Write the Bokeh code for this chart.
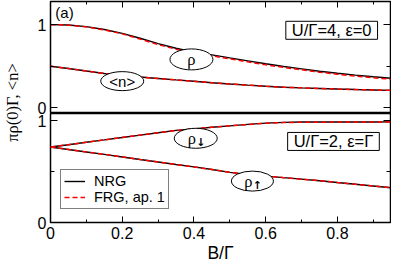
import numpy as np
from bokeh.plotting import figure
from bokeh.models import (Range1d, LinearAxis, FixedTicker, Label, Legend,
                          LegendItem, CustomJSTickFormatter)
from bokeh.layouts import row, column
from bokeh.embed import file_html
from bokeh.resources import INLINE
from bokeh.core.properties import value

# ---------------- data ----------------
B = [0.00, 0.05, 0.10, 0.15, 0.20, 0.25, 0.30, 0.35, 0.40, 0.45,
     0.50, 0.55, 0.60, 0.65, 0.70, 0.75, 0.80, 0.85, 0.90, 0.95]

# upper panel: U/Gamma=4, eps=0
rho_nrg = [1.000, 0.995, 0.976, 0.941, 0.895, 0.836, 0.772, 0.716, 0.670, 0.637,
           0.600, 0.565, 0.530, 0.497, 0.468, 0.440, 0.415, 0.393, 0.373, 0.355]
rho_frg = [1.000, 0.994, 0.973, 0.936, 0.889, 0.826, 0.760, 0.704, 0.659, 0.625,
           0.588, 0.553, 0.518, 0.486, 0.457, 0.429, 0.404, 0.382, 0.362, 0.344]
n_nrg = [0.500, 0.472, 0.442, 0.413, 0.390, 0.370, 0.353, 0.336, 0.320, 0.302,
         0.287, 0.273, 0.260, 0.248, 0.240, 0.233, 0.226, 0.220, 0.215, 0.210]
n_frg = [0.500, 0.472, 0.442, 0.413, 0.390, 0.370, 0.352, 0.335, 0.319, 0.301,
         0.286, 0.272, 0.259, 0.248, 0.240, 0.233, 0.226, 0.220, 0.215, 0.210]

# lower panel: U/Gamma=2, eps=Gamma
rho_dn_nrg = [0.740, 0.763, 0.787, 0.810, 0.834, 0.857, 0.880, 0.903, 0.918, 0.934,
              0.948, 0.962, 0.975, 0.982, 0.985, 0.986, 0.986, 0.986, 0.986, 0.987]
rho_dn_frg = [0.740, 0.763, 0.787, 0.810, 0.834, 0.857, 0.880, 0.902, 0.918, 0.934,
              0.948, 0.961, 0.973, 0.980, 0.983, 0.984, 0.985, 0.985, 0.986, 0.986]
rho_up_nrg = [0.740, 0.716, 0.692, 0.668, 0.643, 0.618, 0.594, 0.569, 0.545, 0.520,
              0.492, 0.472, 0.455, 0.440, 0.425, 0.410, 0.392, 0.375, 0.358, 0.340]
rho_up_frg = [0.740, 0.716, 0.692, 0.668, 0.643, 0.618, 0.594, 0.569, 0.545, 0.520,
              0.492, 0.472, 0.455, 0.440, 0.425, 0.410, 0.392, 0.375, 0.358, 0.340]

x_major = [0.0, 0.2, 0.4, 0.6, 0.8]
x_minor = [0.1, 0.3, 0.5, 0.7, 0.9]
y_major = [0, 1]
y_minor = [0.5]

SANS = "Liberation Sans"
SERIF = "Liberation Serif"
TICK_FS = "16px"

x_range = Range1d(0, 0.948)

EMPTY = CustomJSTickFormatter(code="return '';")


def style_axis(ax, major_in, minor_in, labels=True):
    ax.axis_line_color = None
    ax.major_tick_in = major_in
    ax.major_tick_out = 0
    ax.minor_tick_in = minor_in
    ax.minor_tick_out = 0
    ax.major_tick_line_color = "black"
    ax.minor_tick_line_color = "black"
    ax.major_tick_line_width = 1
    ax.minor_tick_line_width = 1
    if labels:
        ax.major_label_text_font = SANS
        ax.major_label_text_font_size = TICK_FS
        ax.major_label_text_color = "black"
    else:
        ax.formatter = EMPTY
        ax.major_label_text_font_size = "1px"
        ax.major_label_standoff = 0


def make_panel(y_range, height, top_border, bottom_border, **kw):
    p = figure(width=365, height=height, x_range=x_range, y_range=y_range,
               x_axis_type=None, y_axis_type=None, toolbar_location=None,
               output_backend="svg", min_border_left=24, min_border_right=1,
               min_border_top=top_border, min_border_bottom=bottom_border, **kw)
    p.outline_line_color = "black"
    p.outline_line_width = 1.5
    p.xgrid.visible = False
    p.ygrid.visible = False
    yt = FixedTicker(ticks=y_major, minor_ticks=y_minor)
    yl = LinearAxis(ticker=yt,
                    formatter=CustomJSTickFormatter(code="return tick.toFixed(0);"))
    style_axis(yl, 7, 4)
    yl.major_label_standoff = 4
    p.add_layout(yl, "left")
    yr = LinearAxis(ticker=FixedTicker(ticks=y_major, minor_ticks=y_minor))
    style_axis(yr, 7, 4, labels=False)
    p.add_layout(yr, "right")
    return p


# ---------------- upper panel ----------------
pt = make_panel(Range1d(-0.056, 1.278), 116, 1, 4)
pt.background_fill_color = "white"
pt.border_fill_color = "white"
xa_top = LinearAxis(ticker=FixedTicker(ticks=x_major, minor_ticks=x_minor))
style_axis(xa_top, 6, 3, labels=False)
pt.add_layout(xa_top, "above")

pt.line(B, rho_nrg, line_color="black", line_width=1.4)
pt.line(B, n_nrg, line_color="black", line_width=1.4)
pt.line(B, rho_frg, line_color="red", line_width=1.5, line_dash="5 3")
pt.line(B, n_frg, line_color="red", line_width=1.5, line_dash="5 3")

pt.ellipse(x=[0.393, 0.200], y=[0.582, 0.321], width=[43, 43], height=[21, 19],
           width_units="screen", height_units="screen",
           fill_color="white", line_color="black", line_width=1)
pt.text(x=[0.393], y=[0.582], text=["ρ"], text_align="center",
        text_baseline="middle", text_font=value(SERIF), text_font_size="16.5px",
        text_color="black")
pt.text(x=[0.200], y=[0.321], text=["<n>"], text_align="center",
        text_baseline="middle", text_font=value(SANS), text_font_size="15px",
        text_color="black")

pt.add_layout(Label(x=0.039, y=1.151, text="(a)", text_align="center",
                    text_baseline="middle", text_font=SANS,
                    text_font_size="15px", text_color="black"))
pt.add_layout(Label(x=0.784, y=0.932, text="U/Γ=4, ε=0", text_align="center",
                    text_baseline="middle", text_font=SANS,
                    text_font_size="16.5px", text_color="black",
                    border_line_color="black", border_line_width=1,
                    background_fill_color="white",
                    padding=dict(left=6, right=6, top=0, bottom=0)))

# ---------------- lower panel ----------------
pb = make_panel(Range1d(0, 1.069), 159, 5, 45, margin=(-8, 0, 0, 0))
pb.background_fill_color = None
pb.border_fill_color = None
xa_bot = LinearAxis(ticker=FixedTicker(ticks=x_major, minor_ticks=x_minor),
                    formatter=CustomJSTickFormatter(
                        code="return tick == 0 ? '0' : tick.toFixed(1);"))
style_axis(xa_bot, 6, 3)
xa_bot.major_label_standoff = 4
xa_bot.axis_label = "B/Γ"
xa_bot.axis_label_text_font = SANS
xa_bot.axis_label_text_font_size = "17.5px"
xa_bot.axis_label_text_font_style = "normal"
xa_bot.axis_label_standoff = 1
xa_bot.axis_label_text_color = "black"
pb.add_layout(xa_bot, "below")

n1 = pb.line(B, rho_dn_nrg, line_color="black", line_width=1.4)
pb.line(B, rho_up_nrg, line_color="black", line_width=1.4)
f1 = pb.line(B, rho_dn_frg, line_color="red", line_width=1.5, line_dash="5 3")
pb.line(B, rho_up_frg, line_color="red", line_width=1.5, line_dash="5 3")

pb.ellipse(x=[0.405, 0.563], y=[0.826, 0.406], width=[43, 42], height=[20, 20],
           width_units="screen", height_units="screen",
           fill_color="white", line_color="black", line_width=1)
pb.text(x=[0.405, 0.563], y=[0.826, 0.406], text=["ρ", "ρ"], x_offset=-4,
        text_align="center", text_baseline="middle", text_font=value(SERIF),
        text_font_size="16.5px", text_color="black")
pb.text(x=[0.405, 0.563], y=[0.826, 0.406], text=["↓", "↑"], x_offset=5,
        y_offset=4, text_align="center", text_baseline="middle",
        text_font=value("DejaVu Sans"), text_font_size="11px",
        text_font_style="bold", text_color="black")

pb.add_layout(Label(x=0.789, y=0.795, text="U/Γ=2, ε=Γ", text_align="center",
                    text_baseline="middle", text_font=SANS,
                    text_font_size="16.5px", text_color="black",
                    border_line_color="black", border_line_width=1,
                    background_fill_color="white",
                    padding=dict(left=6, right=6, top=0, bottom=0)))

legend = Legend(items=[LegendItem(label="NRG", renderers=[n1]),
                       LegendItem(label="FRG, ap. 1", renderers=[f1])],
                location=(10, 13), orientation="vertical")
legend.border_line_color = "black"
legend.border_line_width = 1
legend.background_fill_color = "white"
legend.background_fill_alpha = 1
legend.padding = 3
legend.spacing = 0
legend.margin = 0
legend.glyph_width = 21
legend.glyph_height = 16
legend.label_height = 16
legend.label_standoff = 9
legend.label_text_font = SANS
legend.label_text_font_size = "14.5px"
legend.label_text_color = "black"
pb.add_layout(legend)

# ---------------- y label column ----------------
pl = figure(width=26, height=267, x_range=Range1d(0, 26), y_range=Range1d(0, 267),
            x_axis_type=None, y_axis_type=None, toolbar_location=None,
            output_backend="svg", min_border=0)
pl.outline_line_color = None
pl.xgrid.visible = False
pl.ygrid.visible = False
pl.add_layout(Label(x=12, y=165, text="πρ(0)Γ, <n>", angle=np.pi / 2,
                    text_align="center", text_baseline="middle",
                    text_font=SERIF, text_font_size="16.5px", text_color="black"))

layout = row(pl, column(pt, pb))

open("out.html", "w").write(file_html(layout, INLINE))
